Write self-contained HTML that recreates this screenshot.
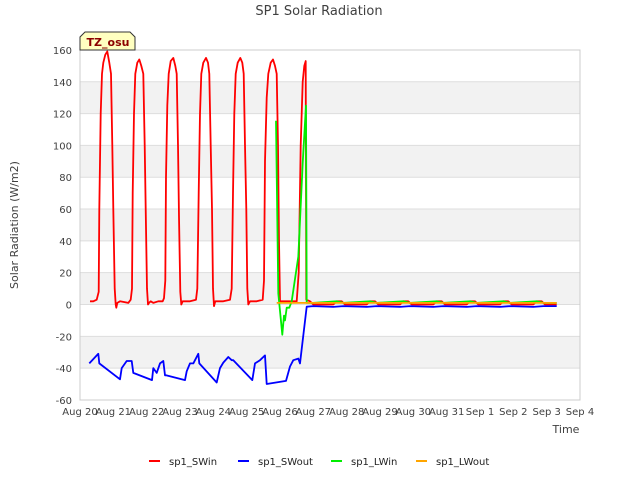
<!DOCTYPE html>
<html><head><meta charset="utf-8"><style>
body{margin:0;background:#fff;font-family:"DejaVu Sans","Liberation Sans",sans-serif;}
svg text{font-family:"DejaVu Sans","Liberation Sans",sans-serif;}
</style></head><body>
<svg id="chart" width="640" height="480" xmlns="http://www.w3.org/2000/svg">
<text x="319" y="15" text-anchor="middle" font-size="13" fill="#404040">SP1 Solar Radiation</text>
<g id="bands"></g><g id="grid"></g>
<rect x="80" y="50" width="500" height="350" fill="none" stroke="#ccc"/>
<g id="yticks"></g><g id="xticks"></g><g id="series"></g>
<text x="18" y="225" transform="rotate(-90 18 225)" text-anchor="middle" font-size="11" fill="#404040">Solar Radiation (W/m2)</text>
<text x="566" y="433" text-anchor="middle" font-size="11" fill="#404040">Time</text>
<g>
<path d="M80,50 L80,37 L85,32 L130,32 L135,37 L135,50 Z" fill="#ffffc0" stroke="#333"/>
<text x="108" y="46" text-anchor="middle" font-size="11" font-weight="bold" fill="#8b0000">TZ_osu</text></g>
<g id="legend"></g>
</svg>
<script>
const yTicks=[160,140,120,100,80,60,40,20,0,-20,-40,-60];
const xTickLabels=["Aug 20","Aug 21","Aug 22","Aug 23","Aug 24","Aug 25","Aug 26","Aug 27","Aug 28","Aug 29","Aug 30","Aug 31","Sep 1","Sep 2","Sep 3","Sep 4"];
const seriesNames=["sp1_SWin","sp1_SWout","sp1_LWin","sp1_LWout"];
const seriesColors=["#ff0000","#0000ff","#00ee00","#ffa500"];
const swinPts=[[0.3,2],[0.4,2],[0.5,3],[0.56,8],[0.58,60],[0.62,120],[0.66,145],[0.7,152],[0.76,157],[0.82,159],[0.88,152],[0.93,145],[0.97,100],[1.0,60],[1.04,10],[1.07,0],[1.09,-2],[1.12,1],[1.2,2],[1.45,1],
[1.52,3],[1.56,10],[1.58,70],[1.62,120],[1.66,145],[1.72,152],[1.78,154],[1.84,150],[1.9,145],[1.94,100],[1.97,60],[2.01,10],[2.04,0],[2.07,1],[2.12,2],[2.2,1],[2.35,2],[2.48,2],
[2.52,4],[2.56,15],[2.58,80],[2.62,125],[2.66,145],[2.72,153],[2.8,155],[2.86,150],[2.9,145],[2.94,100],[2.97,55],[3.01,8],[3.04,0],[3.08,2],[3.3,2],[3.48,3],
[3.52,10],[3.56,70],[3.6,120],[3.64,145],[3.7,152],[3.78,155],[3.84,152],[3.88,145],[3.92,100],[3.96,60],[3.99,10],[4.02,-1],[4.06,2],[4.3,2],[4.5,3],
[4.55,10],[4.59,70],[4.63,120],[4.67,145],[4.73,152],[4.81,155],[4.87,152],[4.91,145],[4.95,100],[4.99,60],[5.02,10],[5.05,0],[5.1,2],[5.3,2],[5.48,3],
[5.52,15],[5.55,90],[5.6,130],[5.65,145],[5.72,152],[5.79,154],[5.85,150],[5.9,145],[5.94,100],[5.97,40],[6.0,2],[6.2,2],[6.5,2],
[6.56,20],[6.62,100],[6.68,140],[6.73,150],[6.77,153],[6.79,3],[6.9,2],[7.0,0],
[7.6,0],[7.7,2],[7.85,2],[7.95,0],[8.6,0],[8.7,2],[8.85,2],[8.95,0],[9.6,0],[9.7,2],[9.85,2],[9.95,0],[10.6,0],[10.7,2],[10.85,2],[10.95,0],[11.6,0],[11.7,2],[11.85,2],[11.95,0],[12.6,0],[12.7,2],[12.85,2],[12.95,0],[13.6,0],[13.7,2],[13.85,2],[13.95,0],[14.3,0]];
const swoutPts=[[0.28,-37],[0.55,-31],[0.58,-37],[1.2,-47],[1.25,-40],[1.4,-35.5],[1.55,-35.5],[1.6,-43],[2.16,-47.5],[2.2,-40],[2.3,-43],[2.4,-37],[2.5,-35.5],[2.55,-44.5],[2.58,-44.5],[3.15,-47.5],[3.2,-42],[3.3,-37],[3.4,-37],[3.55,-31],[3.58,-37],[4.1,-49],[4.2,-40],[4.3,-36.5],[4.45,-33],[4.55,-35],[4.6,-35],[5.17,-47.5],[5.25,-37],[5.4,-35],[5.55,-32],[5.6,-50],[6.18,-48],[6.3,-39],[6.4,-35],[6.55,-34],[6.6,-37],[6.8,-1.4],[7.0,-1],[7.6,-1.5],[7.9,-1],[8.6,-1.5],[8.9,-1],[9.6,-1.5],[9.9,-1],[10.6,-1.5],[10.9,-1],[11.6,-1.5],[11.9,-1],[12.6,-1.5],[12.9,-1],[13.6,-1.5],[13.9,-1],[14.3,-1]];
const lwinPts=[[5.88,115.5],[5.95,7],[6.07,-19],[6.12,-7],[6.15,-10],[6.2,-2],[6.28,-2],[6.35,2],[6.55,30],[6.68,89],[6.78,125],[6.8,1],[7.0,1],[7.7,2],[7.9,1],[8.7,2],[8.9,1],[9.7,2],[9.9,1],[10.7,2],[10.9,1],[11.7,2],[11.9,1],[12.7,2],[12.9,1],[13.7,2],[13.9,1],[14.3,1]];
const lwoutPts=[[5.9,1],[14.3,1]];
const X=d=>80+d*500/15, Y=v=>304.5-v*350/220;
const NS="http://www.w3.org/2000/svg";
function mk(tag,attrs,parent){const e=document.createElementNS(NS,tag);for(const k in attrs)e.setAttribute(k,attrs[k]);document.getElementById(parent).appendChild(e);return e;}
for(let i=0;i<yTicks.length-1;i++){if(i%2===1){const r=mk("rect",{x:80,y:Y(yTicks[i]),width:500,height:Y(yTicks[i+1])-Y(yTicks[i]),fill:"#f2f2f2"},"bands");

}}
yTicks.forEach(v=>{const l=mk("line",{x1:80,x2:580,y1:Y(v),y2:Y(v),stroke:"#ddd"},"grid");


const t=mk("text",{x:72,y:Y(v)+4,"text-anchor":"end","font-size":"10",fill:"#404040"},"yticks");t.textContent=v;

});
xTickLabels.forEach((s,i)=>{const t=mk("text",{x:X(i),y:415,"text-anchor":"middle","font-size":"10",fill:"#404040"},"xticks");t.textContent=s;

});
const all=[swinPts,swoutPts,lwinPts,lwoutPts];
all.forEach((s,k)=>{const pts=s.map(p=>X(p[0]).toFixed(1)+","+Y(p[1]).toFixed(1)).join(" ");
const p=mk("polyline",{points:pts,fill:"none",stroke:seriesColors[k],"stroke-width":"1.8","stroke-linejoin":"round"},"series");

});
const lx=[149,238,331,416];
seriesNames.forEach((n,k)=>{const l=mk("line",{x1:lx[k],x2:lx[k]+11,y1:461,y2:461,stroke:seriesColors[k],"stroke-width":"2"},"legend");


const t=mk("text",{x:lx[k]+20,y:465,"font-size":"10",fill:"#222"},"legend");t.textContent=n;

});
</script>
</body></html>
